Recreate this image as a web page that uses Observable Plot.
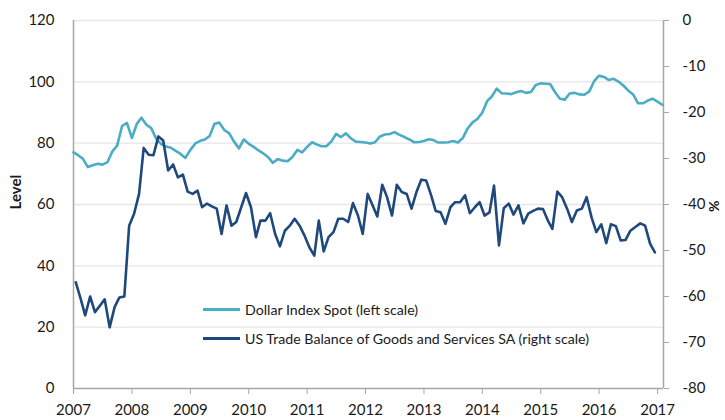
<!DOCTYPE html>
<html>
<head>
<meta charset="utf-8">
<script src="https://cdn.jsdelivr.net/npm/d3@7"></script>
<script src="https://cdn.jsdelivr.net/npm/@observablehq/plot@0.6"></script>
<style>
  html, body { margin: 0; padding: 0; background: #fff; overflow: hidden; }
  #wrap { position: relative; width: 725px; height: 420px; font-family: Lato, "Open Sans", sans-serif; }
  #legend { position: absolute; left: 203px; top: 295px; font-size: 14.2px; color: #1a1a1a; font-family: Lato, sans-serif; }
  #legend .row { display: flex; align-items: center; height: 29px; white-space: nowrap; }
  #legend .sw { width: 37px; height: 3px; margin-right: 5px; }
</style>
</head>
<body>
<div id="wrap"><div id="legend"></div></div>
<script>
// ---- data ----
const dollarStart = "2007-01-01";   // monthly, left scale (level)
const dollarIndex = [
  77.0, 76.0, 74.9, 72.2, 72.8, 73.3, 73.0, 73.8, 77.3, 79.2, 85.6, 86.6,
  81.7, 86.3, 88.3, 86.0, 84.9, 81.5, 79.8, 78.9, 78.5, 77.5, 76.5, 75.2,
  77.8, 79.9, 80.7, 81.2, 82.3, 86.3, 86.7, 84.3, 83.2, 80.5, 78.3, 81.2,
  79.8, 78.8, 77.7, 76.7, 75.5, 73.6, 74.8, 74.3, 74.1, 75.5, 77.8, 77.0,
  78.8, 80.3, 79.6, 79.0, 79.0, 80.5, 83.0, 82.0, 83.2, 81.6, 80.5, 80.4,
  80.2, 79.9, 80.3, 82.2, 82.8, 83.0, 83.6, 82.7, 82.0, 81.2, 80.3, 80.4,
  80.7, 81.3, 81.0, 80.2, 80.2, 80.3, 80.7, 80.2, 81.7, 84.8, 86.8, 87.9,
  90.0, 93.8, 95.2, 97.8, 96.3, 96.2, 96.0, 96.6, 97.0, 96.4, 96.7, 99.0,
  99.5, 99.4, 99.3, 96.6, 94.5, 94.2, 96.2, 96.4, 95.9, 95.8, 96.9, 100.2,
  102.0, 101.6, 100.6, 101.0, 100.1, 98.8, 97.2, 95.9, 93.0, 93.0, 93.9, 94.5,
  93.5, 92.5
];
const tradeStart = "2007-01-15";    // monthly, right scale (%)
const tradeBalance = [
  -56.9, -60.5, -64.1, -60.0, -63.4, -62.0, -60.6, -66.7, -62.3, -60.2, -60.0, -44.6,
  -42.0, -37.7, -27.7, -29.2, -29.3, -25.2, -26.1, -32.6, -31.3, -34.1, -33.5, -37.2,
  -37.7, -37.0, -40.6, -39.8, -40.4, -40.9, -46.4, -40.2, -44.6, -43.8, -40.6, -37.5,
  -40.6, -47.1, -43.5, -43.5, -41.9, -46.4, -49.1, -45.7, -44.6, -43.1, -44.6, -46.7,
  -49.3, -51.1, -43.5, -50.2, -47.1, -46.0, -43.1, -43.1, -43.8, -39.7, -42.4, -46.4,
  -37.7, -40.2, -42.6, -35.7, -38.4, -42.4, -35.7, -37.3, -37.7, -40.9, -37.3, -34.6,
  -34.8, -38.0, -41.4, -41.7, -44.2, -40.6, -39.5, -39.5, -38.0, -41.9, -40.6, -39.5,
  -42.4, -41.7, -35.9, -48.9, -40.8, -39.8, -42.2, -40.2, -44.1, -42.0, -41.4, -40.9,
  -41.0, -43.5, -45.3, -37.2, -38.4, -40.9, -43.8, -41.3, -40.9, -38.4, -42.8, -46.0,
  -44.3, -48.4, -44.3, -44.7, -47.8, -47.7, -45.7, -44.9, -44.1, -44.6, -48.5, -50.4
];
const leftTicks = [0, 20, 40, 60, 80, 100, 120];
const rightTicks = [0, -10, -20, -30, -40, -50, -60, -70, -80];
const yearTicks = [2007, 2008, 2009, 2010, 2011, 2012, 2013, 2014, 2015, 2016, 2017];
const seriesNames = ["Dollar Index Spot (left scale)", "US Trade Balance of Goods and Services SA (right scale)"];
const seriesColors = ["#4BACC6", "#1F497D"];
const axisTitles = ["Level", "%"];
const xDomain = ["2007-01-01", "2017-02-07"];

// right scale (0 .. -80) maps onto left scale (120 .. 0)
const toLeft = r => 120 + r * 1.5;
const toRight = v => Math.round((v - 120) / 1.5);

const dollar = dollarIndex.map((v, i) => ({date: d3.utcMonth.offset(new Date(dollarStart), i), v}));
const trade = tradeBalance.map((r, i) => ({date: d3.utcMonth.offset(new Date(tradeStart), i), v: toLeft(r)}));
const xd = xDomain.map(d => new Date(d));

const chart = Plot.plot({
  width: 725,
  height: 420,
  marginLeft: 73,
  marginRight: 62,
  marginTop: 20,
  marginBottom: 32,
  x: {type: "utc", domain: xd},
  y: {domain: [0, 120]},
  style: {fontFamily: "Lato, sans-serif", color: "#1a1a1a", background: "#fff"},
  marks: [
    Plot.gridY(leftTicks.slice(1), {stroke: "#e6e6e6", strokeOpacity: 1, strokeWidth: 1.3}),
    Plot.ruleX(xd, {stroke: "#a6a6a6", strokeWidth: 1.5}),
    Plot.ruleY([0], {stroke: "#a6a6a6", strokeWidth: 1.5}),
    Plot.axisY(leftTicks, {anchor: "left", tickSize: 0, tickPadding: 19, label: null, fontSize: 15, fill: "#1a1a1a"}),
    Plot.axisY(rightTicks.map(toLeft), {anchor: "right", tickSize: 5, tickPadding: 14, label: null, fontSize: 15,
      stroke: "#a6a6a6", fill: "#1a1a1a", tickFormat: v => String(toRight(v))}),
    Plot.axisX(yearTicks.map(y => new Date(Date.UTC(y, 0, 1))), {anchor: "bottom", tickSize: 6, tickPadding: 10,
      tickFormat: d3.utcFormat("%Y"), label: null, fontSize: 15, stroke: "#a6a6a6", fill: "#1a1a1a"}),
    Plot.line(dollar, {x: "date", y: "v", stroke: seriesColors[0], strokeWidth: 2.6}),
    Plot.line(trade, {x: "date", y: "v", stroke: seriesColors[1], strokeWidth: 2.6}),
    Plot.text([axisTitles[0]], {frameAnchor: "left", dx: -57, dy: 5, rotate: -90, fontSize: 15, fontWeight: "bold", fill: "#1a1a1a"}),
    Plot.text([axisTitles[1]], {frameAnchor: "right", dx: 51, dy: -4, rotate: -90, fontSize: 14, fontWeight: "bold", fill: "#1a1a1a"})
  ]
});
document.getElementById("wrap").prepend(chart);

const legend = document.getElementById("legend");
seriesNames.forEach((name, i) => {
  const row = document.createElement("div");
  row.className = "row";
  const sw = document.createElement("span");
  sw.className = "sw";
  sw.style.background = seriesColors[i];
  const tx = document.createElement("span");
  tx.textContent = name;
  row.append(sw, tx);
  legend.append(row);
});
</script>
</body>
</html>
